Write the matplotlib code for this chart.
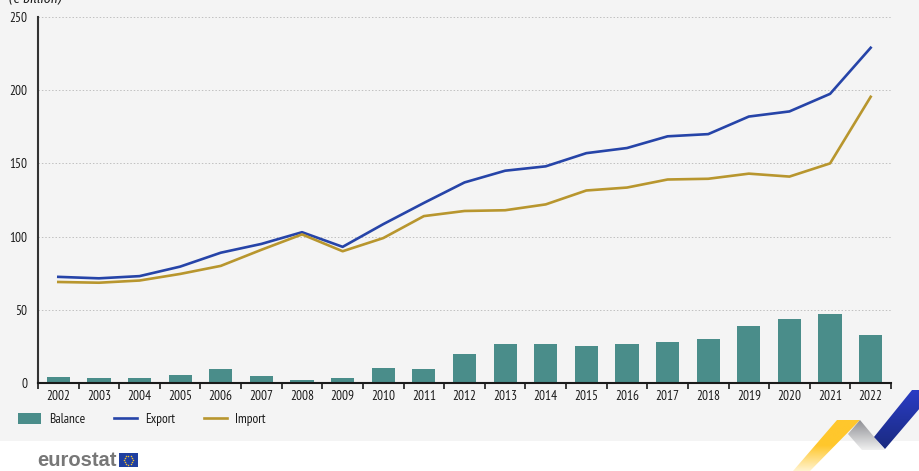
import matplotlib
matplotlib.use("Agg")
import matplotlib.pyplot as plt
import numpy as np
from matplotlib.colors import LinearSegmentedColormap
from matplotlib.patches import Polygon, Rectangle

W, H = 920, 471

years = [str(y) for y in range(2002, 2023)]
export = [72.5, 71.5, 73, 79.5, 89, 95, 103, 93, 108.5, 123, 137,
          145, 148, 157, 160.5, 168.5, 170, 182, 185.5, 197.5, 229]
imports = [69, 68.5, 70, 74.5, 80, 91, 101.5, 90, 99, 114, 117.5,
           118, 122, 131.5, 133.5, 139, 139.5, 143, 141, 150, 195.5]
balance = [4.3, 3.4, 3.4, 5.5, 9.5, 4.6, 2, 3.5, 10, 9.5, 19.5,
           26.5, 26.5, 25.5, 26.5, 28, 30, 39, 44, 47, 33]
yticks = [0, 50, 100, 150, 200, 250]

BG = "#F4F4F4"
TEAL = "#4A8D8A"
BLUE = "#2644A8"
GOLD = "#B8962E"
INK = "#1A1A1A"
FS = 9.6

plt.rcParams["font.family"] = ["PT Sans Narrow", "Liberation Sans", "DejaVu Sans"]

fig = plt.figure(figsize=(W / 100, H / 100), dpi=100, facecolor="white")

# page layer in pixel coordinates, y going down
page = fig.add_axes([0, 0, 1, 1])
page.set_xlim(0, W)
page.set_ylim(H, 0)
page.axis("off")
page.add_patch(Rectangle((0, 0), W, 441, color=BG, lw=0))


def ribbon(pts, stops, extent):
    # gradient fill clipped to the ribbon outline
    cmap = LinearSegmentedColormap.from_list("r", stops)
    grad = np.linspace(0, 1, 128).reshape(-1, 1)
    im = page.imshow(grad, cmap=cmap, extent=extent, aspect="auto", zorder=3)
    im.set_clip_path(Polygon(pts, closed=True, transform=page.transData))


ribbon([(837, 420), (860, 420), (810, 471), (793, 471)],
       ["#FFC72C", "#FFC72C", "#FFF3CF"], (793, 860, 471, 420))
ribbon([(860, 420), (885, 450), (862, 450), (848, 434)],
       ["#8E8F94", "#F0F0F0"], (848, 885, 450, 420))
ribbon([(912, 390), (920, 390), (920, 408), (885, 449), (874, 437)],
       ["#2A3CC4", "#1A2A80"], (874, 920, 449, 390))
page.set_xlim(0, W)
page.set_ylim(H, 0)

page.text(37, 460.5, "eurostat", family=["Liberation Sans", "DejaVu Sans"],
          fontsize=14.5, fontweight="bold", color="#777777",
          ha="left", va="center")
page.add_patch(Rectangle((119, 453), 19, 14, color="#1F3FA0", lw=0))
ang = np.linspace(0, 2 * np.pi, 12, endpoint=False)
page.scatter(128.5 + 4.5 * np.cos(ang), 460 + 4.5 * np.sin(ang),
             s=1.2, color="#F2C230", lw=0)

page.text(9, -2, "(€ billion)", family=["Fira Sans Condensed", "Liberation Sans", "DejaVu Sans"],
          fontsize=FS, style="italic", color=INK, ha="left", va="center")

# chart
ax = fig.add_axes([38 / W, 1 - 383 / H, (891 - 38) / W, (383 - 17) / H])
ax.patch.set_alpha(0)
x = np.arange(len(years))
bars = ax.bar(x, balance, width=0.57, color=TEAL, label="Balance", zorder=2)
line_exp, = ax.plot(x, export, color=BLUE, lw=1.9, label="Export", zorder=3)
line_imp, = ax.plot(x, imports, color=GOLD, lw=1.9, label="Import", zorder=3)

ax.set_xlim(-0.5, 20.5)
ax.set_ylim(0, 250)
ax.set_xticks(np.arange(-0.5, 21, 1))
ax.set_xticklabels([])
ax.set_xticks(x, minor=True)
ax.set_xticklabels(years, minor=True, fontsize=FS, color=INK)
ax.tick_params(axis="x", which="major", length=4, width=1.2, color=INK,
               direction="out")
ax.tick_params(axis="x", which="minor", length=0, pad=5)
ax.set_yticks(yticks)
ax.tick_params(axis="y", length=0, labelsize=FS, labelcolor=INK, pad=7.5)
ax.grid(axis="y", color="#C0C0C0", lw=0.7, ls=(0, (1.5, 2)))
ax.set_axisbelow(True)
for s in ("top", "right"):
    ax.spines[s].set_visible(False)
ax.spines["left"].set_linewidth(1.5)
ax.spines["left"].set_color("#333333")
ax.spines["bottom"].set_linewidth(1.5)
ax.spines["bottom"].set_color(INK)

fig.legend([bars, line_exp, line_imp], ["Balance", "Export", "Import"],
           loc="center left", bbox_to_anchor=(18 / W, 1 - 419.5 / H),
           ncol=3, frameon=False, fontsize=FS, handlelength=1.75,
           handleheight=0.85, columnspacing=2.2, handletextpad=0.55,
           borderpad=0, borderaxespad=0, labelcolor=INK)

fig.savefig("out.png", dpi=100)
